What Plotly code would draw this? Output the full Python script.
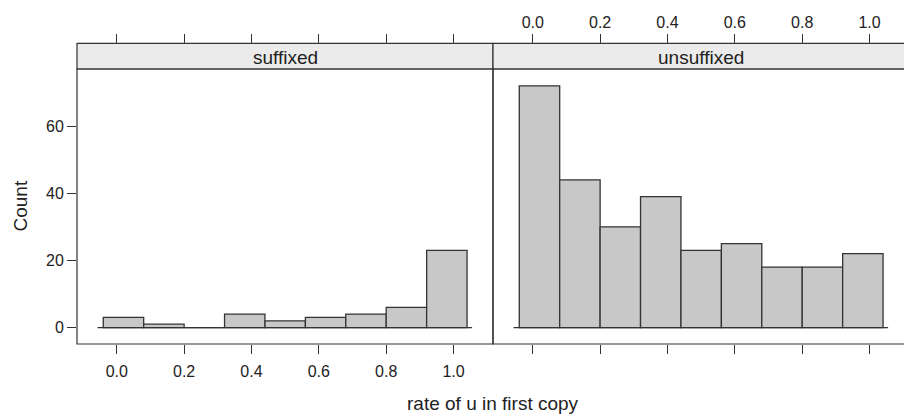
import plotly.graph_objects as go

# ---- data ----
bin_centers = [0.02, 0.14, 0.26, 0.38, 0.50, 0.62, 0.74, 0.86, 0.98]
bin_width = 0.12
suffixed_counts = [3, 1, 0, 4, 2, 3, 4, 6, 23]
unsuffixed_counts = [72, 44, 30, 39, 23, 25, 18, 18, 22]
panel_labels = ["suffixed", "unsuffixed"]
x_ticks = [0.0, 0.2, 0.4, 0.6, 0.8, 1.0]
y_ticks = [0, 20, 40, 60]
baseline_extent = [-0.057, 1.055]
x_title = "rate of u in first copy"
y_title = "Count"

# ---- layout geometry (pixels) ----
W, H = 904, 414
def px(x):
    return x / W
def py(y):
    return 1 - y / H

L, M, R = 77, 493, 909
TOP, STRIP_TOP, BOT = 69, 43.3, 344
x_range = [-0.118, 1.117]
unit = (M - L) / (x_range[1] - x_range[0])
x2_range = [x_range[0], x_range[0] + (W - M) / unit]
y_range = [-4.9, 77.0]

LINE = "#333333"
FILL = "#c8c8c8"
STRIP = "#ebebeb"
FONT = "Liberation Sans, Arial, sans-serif"

fig = go.Figure()
for counts, xa in [(suffixed_counts, "x"), (unsuffixed_counts, "x2")]:
    fig.add_trace(go.Bar(x=bin_centers, y=counts, width=bin_width, xaxis=xa, yaxis="y",
                         marker=dict(color=FILL, line=dict(color=LINE, width=1.3)),
                         showlegend=False, hoverinfo="skip"))
# invisible traces to carry the top tick axes
for xa in ["x3", "x4"]:
    fig.add_trace(go.Scatter(x=[None], y=[None], xaxis=xa, yaxis="y", showlegend=False,
                             hoverinfo="skip", mode="lines"))

tickfont = dict(family=FONT, size=16, color="#222222")
common_x = dict(tickmode="array", tickvals=x_ticks, ticks="outside", ticklen=9, tickwidth=1,
                tickcolor=LINE, showgrid=False, zeroline=False, showline=False,
                tickformat=".1f", tickfont=tickfont, automargin=False, fixedrange=True)

shapes = []
# baselines
for xr in ["x", "x2"]:
    shapes.append(dict(type="line", xref=xr, yref="y", x0=baseline_extent[0], x1=baseline_extent[1],
                       y0=0, y1=0, line=dict(color=LINE, width=1.3), layer="above"))
# strips
for x0, x1 in [(L, M), (M, R)]:
    shapes.append(dict(type="rect", xref="paper", yref="paper", x0=px(x0), x1=px(x1),
                       y0=py(TOP), y1=py(STRIP_TOP), fillcolor=STRIP,
                       line=dict(color=LINE, width=1.2), layer="below"))
# panel borders
for x0, x1 in [(L, M), (M, R)]:
    shapes.append(dict(type="rect", xref="paper", yref="paper", x0=px(x0), x1=px(x1),
                       y0=py(BOT), y1=py(TOP), fillcolor="rgba(0,0,0,0)",
                       line=dict(color=LINE, width=1.2), layer="above"))

annotations = []
for lab, x0, x1 in [(panel_labels[0], L, M), (panel_labels[1], M, R)]:
    annotations.append(dict(text=lab, xref="paper", yref="paper", x=px((x0 + x1) / 2),
                            y=py((TOP + STRIP_TOP) / 2 + 1), showarrow=False,
                            xanchor="center", yanchor="middle",
                            font=dict(family=FONT, size=19, color="#222222")))
annotations.append(dict(text=x_title, xref="paper", yref="paper", x=px((L + R) / 2), y=py(403),
                        showarrow=False, xanchor="center", yanchor="middle",
                        font=dict(family=FONT, size=19, color="#222222")))
annotations.append(dict(text=y_title, xref="paper", yref="paper", x=px(20), y=py((TOP + BOT) / 2),
                        showarrow=False, textangle=-90, xanchor="center", yanchor="middle",
                        font=dict(family=FONT, size=19, color="#222222")))

fig.update_layout(
    width=W, height=H,
    margin=dict(l=0, r=0, t=0, b=0),
    paper_bgcolor="white", plot_bgcolor="white",
    bargap=0,
    xaxis=dict(domain=[px(L), px(M)], range=x_range, anchor="y", side="bottom",
               showticklabels=True, ticklabelstandoff=4, **common_x),
    xaxis2=dict(domain=[px(M), 1.0], range=x2_range, anchor="y", side="bottom",
                showticklabels=False, **common_x),
    xaxis3=dict(overlaying="x", range=x_range, anchor="free", position=py(STRIP_TOP), side="top",
                showticklabels=False, **common_x),
    xaxis4=dict(overlaying="x2", range=x2_range, anchor="free", position=py(STRIP_TOP), side="top",
                showticklabels=True, ticklabelstandoff=0, **common_x),
    yaxis=dict(domain=[py(BOT), py(TOP)], range=y_range, anchor="x", tickmode="array",
               tickvals=y_ticks, ticks="outside", ticklen=9, tickwidth=1, tickcolor=LINE,
               showgrid=False, zeroline=False, showline=False, tickfont=tickfont,
               ticklabelstandoff=0, automargin=False, fixedrange=True),
    shapes=shapes,
    annotations=annotations,
)

fig.write_html("out.html", config={"displayModeBar": False, "staticPlot": True},
               post_script="document.body.style.margin='0px';document.body.style.overflow='hidden';")
